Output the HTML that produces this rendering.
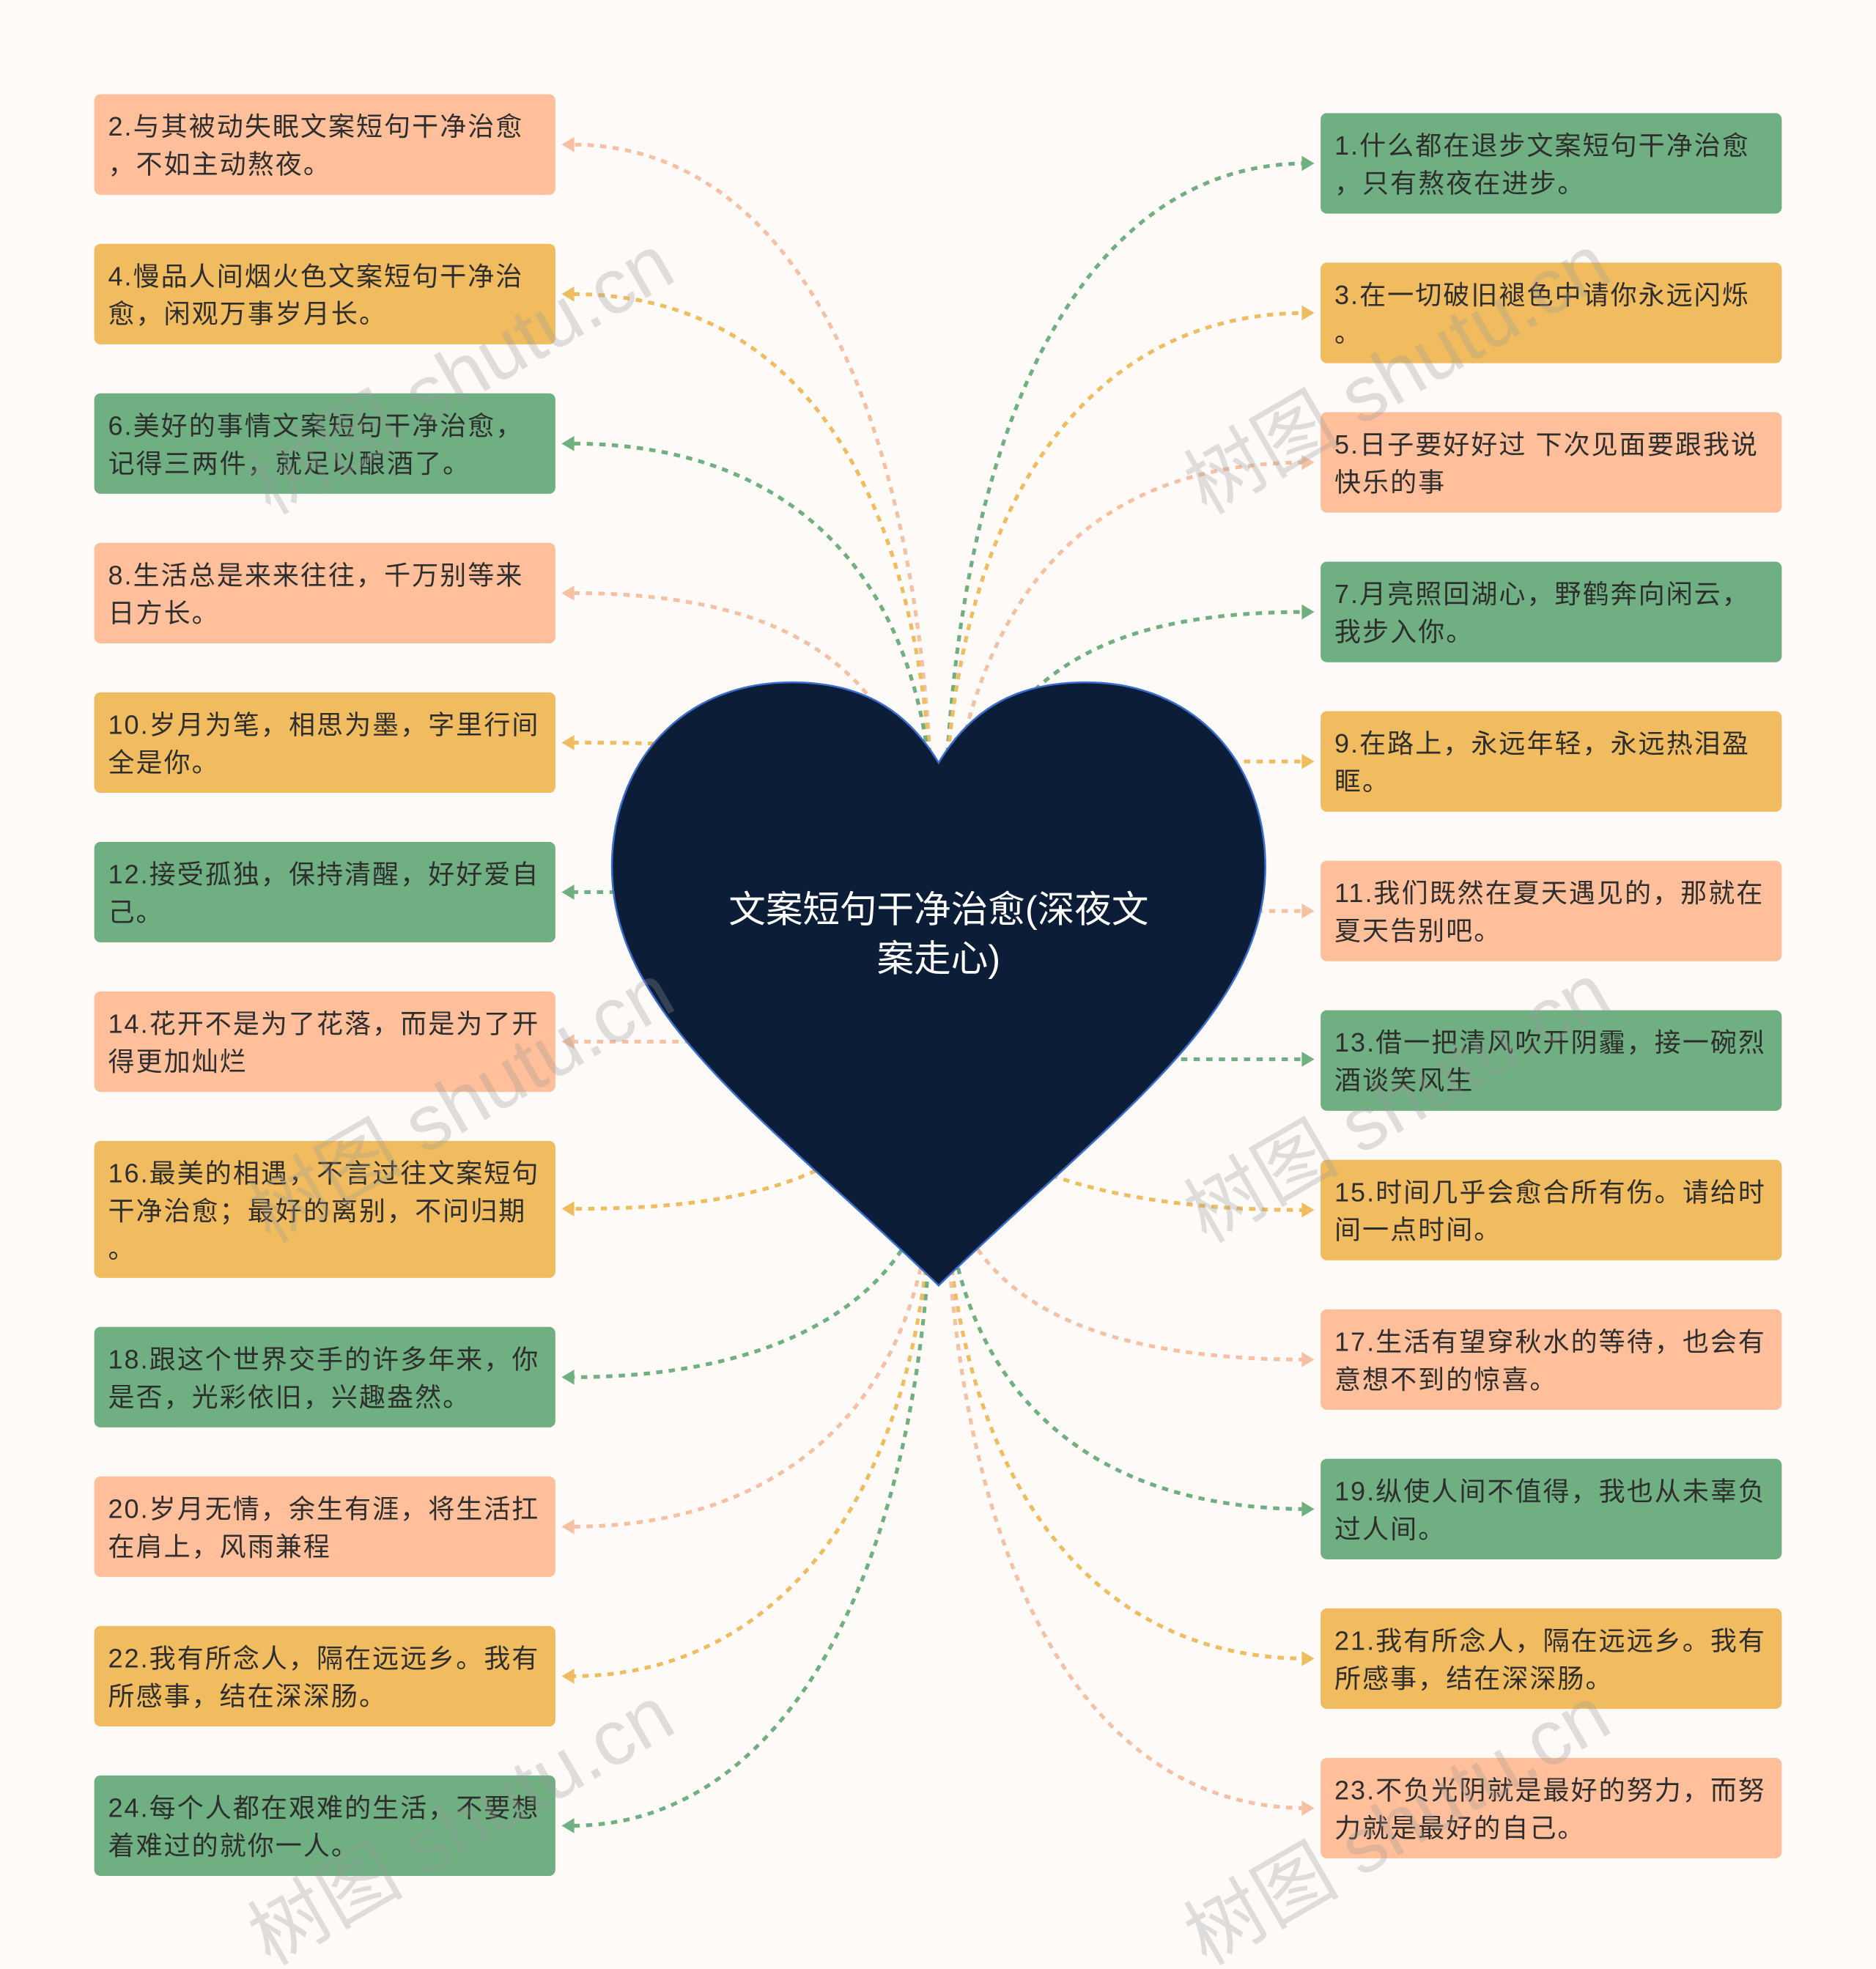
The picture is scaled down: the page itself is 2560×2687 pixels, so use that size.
<!DOCTYPE html>
<html><head><meta charset="utf-8"><style>
html,body{margin:0;padding:0;background:#fdfaf8;}
svg{display:block;}
text{font-family:"Liberation Sans","Noto Sans CJK SC",sans-serif;}
</style></head><body>
<svg width="2560" height="2687" viewBox="0 0 1493 1567" xmlns="http://www.w3.org/2000/svg">
<rect width="1493" height="1567" fill="#fdfaf8"/>
<g fill="none" stroke-width="3" stroke-dasharray="5 5">
<path d="M742 640 C730 300 620 115 455 115" stroke="#f6c0a2"/>
<path d="M742 640 C732 380 630 234 455 234" stroke="#efbd60"/>
<path d="M742 640 C734 470 640 353 455 353" stroke="#6faf80"/>
<path d="M742 680 C720 540 640 472 455 472" stroke="#f6c0a2"/>
<path d="M600 600 C560 592 520 591 455 591" stroke="#efbd60"/>
<path d="M600 710 C560 710 520 710 455 710" stroke="#6faf80"/>
<path d="M600 829 C560 829 520 829 455 829" stroke="#f6c0a2"/>
<path d="M700 900 C640 950 560 962 455 962" stroke="#efbd60"/>
<path d="M742 930 C730 1020 640 1096 455 1096" stroke="#6faf80"/>
<path d="M742 940 C734 1110 630 1215 455 1215" stroke="#f6c0a2"/>
<path d="M742 940 C734 1190 620 1334 455 1334" stroke="#efbd60"/>
<path d="M742 940 C735 1260 620 1453 455 1453" stroke="#6faf80"/>
<path d="M752 640 C764 320 870 130 1040 130" stroke="#6faf80"/>
<path d="M752 640 C762 400 866 249 1040 249" stroke="#efbd60"/>
<path d="M752 680 C770 480 860 368 1040 368" stroke="#f6c0a2"/>
<path d="M752 700 C780 540 870 487 1040 487" stroke="#6faf80"/>
<path d="M900 606 C940 606 980 606 1040 606" stroke="#efbd60"/>
<path d="M900 725 C940 725 980 725 1040 725" stroke="#f6c0a2"/>
<path d="M900 843 C940 843 980 843 1040 843" stroke="#6faf80"/>
<path d="M800 920 C860 950 940 963 1040 963" stroke="#efbd60"/>
<path d="M752 930 C770 1030 860 1082 1040 1082" stroke="#f6c0a2"/>
<path d="M752 940 C762 1110 870 1201 1040 1201" stroke="#6faf80"/>
<path d="M752 940 C760 1180 870 1320 1040 1320" stroke="#efbd60"/>
<path d="M752 940 C762 1260 870 1439 1040 1439" stroke="#f6c0a2"/>
</g>
<g>
<polygon points="447,115 457,109 457,121" fill="#f6c0a2"/>
<polygon points="447,234 457,228 457,240" fill="#efbd60"/>
<polygon points="447,353 457,347 457,359" fill="#6faf80"/>
<polygon points="447,472 457,466 457,478" fill="#f6c0a2"/>
<polygon points="447,591 457,585 457,597" fill="#efbd60"/>
<polygon points="447,710 457,704 457,716" fill="#6faf80"/>
<polygon points="447,829 457,823 457,835" fill="#f6c0a2"/>
<polygon points="447,962 457,956 457,968" fill="#efbd60"/>
<polygon points="447,1096 457,1090 457,1102" fill="#6faf80"/>
<polygon points="447,1215 457,1209 457,1221" fill="#f6c0a2"/>
<polygon points="447,1334 457,1328 457,1340" fill="#efbd60"/>
<polygon points="447,1453 457,1447 457,1459" fill="#6faf80"/>
<polygon points="1046,130 1036,124 1036,136" fill="#6faf80"/>
<polygon points="1046,249 1036,243 1036,255" fill="#efbd60"/>
<polygon points="1046,368 1036,362 1036,374" fill="#f6c0a2"/>
<polygon points="1046,487 1036,481 1036,493" fill="#6faf80"/>
<polygon points="1046,606 1036,600 1036,612" fill="#efbd60"/>
<polygon points="1046,725 1036,719 1036,731" fill="#f6c0a2"/>
<polygon points="1046,843 1036,837 1036,849" fill="#6faf80"/>
<polygon points="1046,963 1036,957 1036,969" fill="#efbd60"/>
<polygon points="1046,1082 1036,1076 1036,1088" fill="#f6c0a2"/>
<polygon points="1046,1201 1036,1195 1036,1207" fill="#6faf80"/>
<polygon points="1046,1320 1036,1314 1036,1326" fill="#efbd60"/>
<polygon points="1046,1439 1036,1433 1036,1445" fill="#f6c0a2"/>
</g>
<path d="M747 607 C720 562 682 543 630 543 C542 543 487 608 487 690 C487 808 612 892 747 1023 C882 892 1007 808 1007 690 C1007 608 952 543 864 543 C812 543 774 562 747 607 Z" fill="#0b1d37" stroke="#3a6fd0" stroke-width="1.5"/>
<text x="747" y="734" font-size="29.5" fill="#fff" text-anchor="middle">文案短句干净治愈(深夜文</text>
<text x="747" y="773" font-size="29.5" fill="#fff" text-anchor="middle">案走心)</text>
<g font-size="21" fill="#2e2e2e" letter-spacing="1.2">
<rect x="75" y="75" width="367" height="80" rx="5" fill="#ffbf9b"/><text x="86" y="108">2.与其被动失眠文案短句干净治愈</text><text x="86" y="138">，不如主动熬夜。</text>
<rect x="75" y="194" width="367" height="80" rx="5" fill="#f0bc5f"/><text x="86" y="227">4.慢品人间烟火色文案短句干净治</text><text x="86" y="257">愈，闲观万事岁月长。</text>
<rect x="75" y="313" width="367" height="80" rx="5" fill="#6faf82"/><text x="86" y="346">6.美好的事情文案短句干净治愈，</text><text x="86" y="376">记得三两件，就足以酿酒了。</text>
<rect x="75" y="432" width="367" height="80" rx="5" fill="#ffbf9b"/><text x="86" y="465">8.生活总是来来往往，千万别等来</text><text x="86" y="495">日方长。</text>
<rect x="75" y="551" width="367" height="80" rx="5" fill="#f0bc5f"/><text x="86" y="584">10.岁月为笔，相思为墨，字里行间</text><text x="86" y="614">全是你。</text>
<rect x="75" y="670" width="367" height="80" rx="5" fill="#6faf82"/><text x="86" y="703">12.接受孤独，保持清醒，好好爱自</text><text x="86" y="733">己。</text>
<rect x="75" y="789" width="367" height="80" rx="5" fill="#ffbf9b"/><text x="86" y="822">14.花开不是为了花落，而是为了开</text><text x="86" y="852">得更加灿烂</text>
<rect x="75" y="908" width="367" height="109" rx="5" fill="#f0bc5f"/><text x="86" y="941">16.最美的相遇，不言过往文案短句</text><text x="86" y="971">干净治愈；最好的离别，不问归期</text><text x="86" y="1001">。</text>
<rect x="75" y="1056" width="367" height="80" rx="5" fill="#6faf82"/><text x="86" y="1089">18.跟这个世界交手的许多年来，你</text><text x="86" y="1119">是否，光彩依旧，兴趣盎然。</text>
<rect x="75" y="1175" width="367" height="80" rx="5" fill="#ffbf9b"/><text x="86" y="1208">20.岁月无情，余生有涯，将生活扛</text><text x="86" y="1238">在肩上，风雨兼程</text>
<rect x="75" y="1294" width="367" height="80" rx="5" fill="#f0bc5f"/><text x="86" y="1327">22.我有所念人，隔在远远乡。我有</text><text x="86" y="1357">所感事，结在深深肠。</text>
<rect x="75" y="1413" width="367" height="80" rx="5" fill="#6faf82"/><text x="86" y="1446">24.每个人都在艰难的生活，不要想</text><text x="86" y="1476">着难过的就你一人。</text>
<rect x="1051" y="90" width="367" height="80" rx="5" fill="#6faf82"/><text x="1062" y="123">1.什么都在退步文案短句干净治愈</text><text x="1062" y="153">，只有熬夜在进步。</text>
<rect x="1051" y="209" width="367" height="80" rx="5" fill="#f0bc5f"/><text x="1062" y="242">3.在一切破旧褪色中请你永远闪烁</text><text x="1062" y="272">。</text>
<rect x="1051" y="328" width="367" height="80" rx="5" fill="#ffbf9b"/><text x="1062" y="361">5.日子要好好过 下次见面要跟我说</text><text x="1062" y="391">快乐的事</text>
<rect x="1051" y="447" width="367" height="80" rx="5" fill="#6faf82"/><text x="1062" y="480">7.月亮照回湖心，野鹤奔向闲云，</text><text x="1062" y="510">我步入你。</text>
<rect x="1051" y="566" width="367" height="80" rx="5" fill="#f0bc5f"/><text x="1062" y="599">9.在路上，永远年轻，永远热泪盈</text><text x="1062" y="629">眶。</text>
<rect x="1051" y="685" width="367" height="80" rx="5" fill="#ffbf9b"/><text x="1062" y="718">11.我们既然在夏天遇见的，那就在</text><text x="1062" y="748">夏天告别吧。</text>
<rect x="1051" y="804" width="367" height="80" rx="5" fill="#6faf82"/><text x="1062" y="837">13.借一把清风吹开阴霾，接一碗烈</text><text x="1062" y="867">酒谈笑风生</text>
<rect x="1051" y="923" width="367" height="80" rx="5" fill="#f0bc5f"/><text x="1062" y="956">15.时间几乎会愈合所有伤。请给时</text><text x="1062" y="986">间一点时间。</text>
<rect x="1051" y="1042" width="367" height="80" rx="5" fill="#ffbf9b"/><text x="1062" y="1075">17.生活有望穿秋水的等待，也会有</text><text x="1062" y="1105">意想不到的惊喜。</text>
<rect x="1051" y="1161" width="367" height="80" rx="5" fill="#6faf82"/><text x="1062" y="1194">19.纵使人间不值得，我也从未辜负</text><text x="1062" y="1224">过人间。</text>
<rect x="1051" y="1280" width="367" height="80" rx="5" fill="#f0bc5f"/><text x="1062" y="1313">21.我有所念人，隔在远远乡。我有</text><text x="1062" y="1343">所感事，结在深深肠。</text>
<rect x="1051" y="1399" width="367" height="80" rx="5" fill="#ffbf9b"/><text x="1062" y="1432">23.不负光阴就是最好的努力，而努</text><text x="1062" y="1462">力就是最好的自己。</text>
</g>
<g font-size="62" fill="#999" opacity="0.3" font-family="Liberation Serif,Noto Serif CJK SC,serif">
<text x="215" y="410" transform="rotate(-30 215 410)">树图 shutu.cn</text>
<text x="960" y="410" transform="rotate(-30 960 410)">树图 shutu.cn</text>
<text x="215" y="990" transform="rotate(-30 215 990)">树图 shutu.cn</text>
<text x="960" y="990" transform="rotate(-30 960 990)">树图 shutu.cn</text>
<text x="215" y="1565" transform="rotate(-30 215 1565)">树图 shutu.cn</text>
<text x="960" y="1565" transform="rotate(-30 960 1565)">树图 shutu.cn</text>
</g>
</svg>
</body></html>
